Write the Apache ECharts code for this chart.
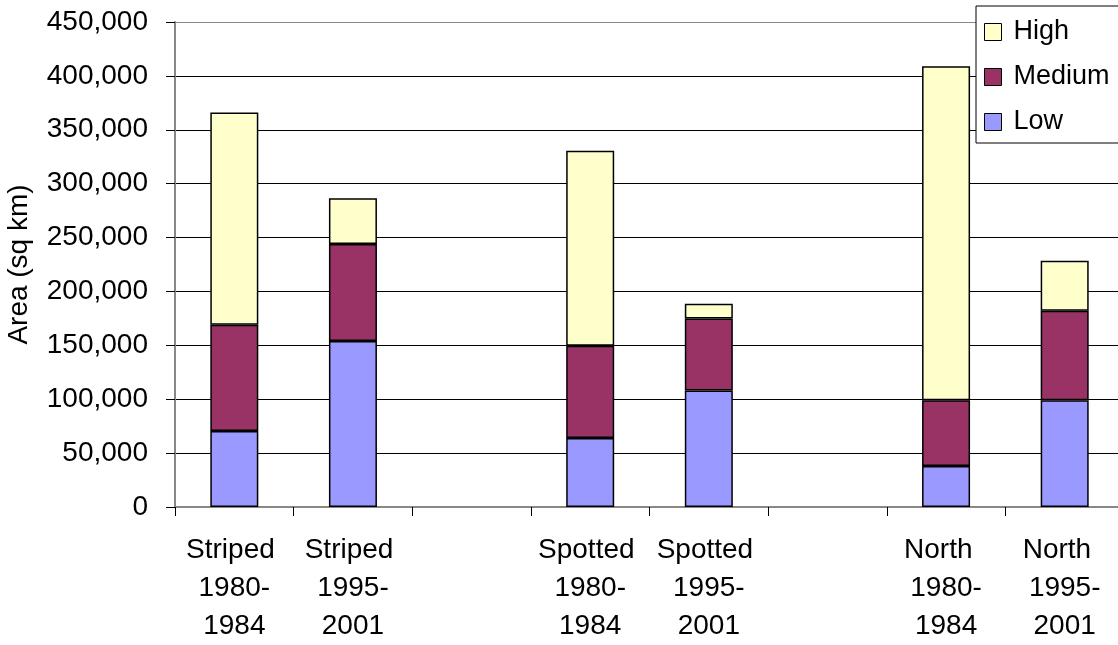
<!DOCTYPE html>
<html>
<head>
<meta charset="utf-8">
<script src="https://cdn.jsdelivr.net/npm/echarts@6/dist/echarts.min.js"></script>
<style>html,body{margin:0;padding:0;background:#fff;}#c{width:1118px;height:645px;}</style>
</head>
<body>
<div id="c"></div>
<script>
var categories = ['Striped \n1980-\n1984', 'Striped \n1995-\n2001', '', 'Spotted \n1980-\n1984', 'Spotted \n1995-\n2001', '', 'North  \n1980-\n1984', 'North  \n1995-\n2001'];
var lowValues = [70500, 154000, null, 64000, 108000, null, 38000, 99000];
var mediumValues = [98500, 90000, null, 85500, 67000, null, 61000, 83000];
var highValues = [197000, 42500, null, 181000, 13500, null, 310000, 46500];
var yTicks = {min: 0, max: 450000, interval: 50000};

var chart = echarts.init(document.getElementById('c'), null, {renderer: 'canvas'});
var font = 'Liberation Sans, Arial, sans-serif';
var gridColors = ['#000','#000','#000','#000','#000','#000','#000','#000','#000','#888'];
function barSeries(name, data, color) {
  return {
    name: name, type: 'bar', stack: 'total', data: data, barWidth: 48,
    itemStyle: {color: color, borderColor: '#000', borderWidth: 1.5},
    emphasis: {disabled: true}
  };
}
chart.setOption({
  animation: false,
  backgroundColor: '#fff',
  grid: {left: 175, top: 22, width: 949, height: 485, containLabel: false, outerBoundsMode: 'none'},
  legend: {
    data: ['High', 'Medium', 'Low'],
    orient: 'vertical', left: 976, top: 6,
    backgroundColor: '#fff', borderColor: '#000', borderWidth: 1,
    padding: [11, 30, 6, 8],
    itemWidth: 17, itemHeight: 17, itemGap: 15,
    icon: 'rect',
    itemStyle: {borderColor: '#000', borderWidth: 1},
    textStyle: {fontFamily: font, fontSize: 27, color: '#000', lineHeight: 30, padding: [0, 0, 0, 7]}
  },
  xAxis: {
    type: 'category', data: categories,
    axisLine: {show: true, lineStyle: {color: '#888', width: 2}},
    axisTick: {show: true, length: 9, lineStyle: {color: '#000', width: 1}},
    axisLabel: {interval: 0, margin: 24, fontFamily: font, fontSize: 28, color: '#000', lineHeight: 38, align: 'center'},
    splitLine: {show: false}
  },
  yAxis: {
    type: 'value', min: yTicks.min, max: yTicks.max, interval: yTicks.interval,
    name: 'Area (sq km)', nameLocation: 'middle', nameGap: 142, nameRotate: 90,
    nameTextStyle: {fontFamily: font, fontSize: 28, color: '#000'},
    axisLine: {show: true, lineStyle: {color: '#888', width: 2}},
    axisTick: {show: true, length: 9, lineStyle: {color: '#000', width: 1}},
    axisLabel: {margin: 27, fontFamily: font, fontSize: 28, color: '#000',
      formatter: function (v) { return v.toLocaleString('en-US'); }},
    splitLine: {show: true, lineStyle: {color: gridColors, width: 1}}
  },
  series: [
    barSeries('Low', lowValues, '#9999FF'),
    barSeries('Medium', mediumValues, '#993366'),
    barSeries('High', highValues, '#FFFFCC')
  ]
});
</script>
</body>
</html>
